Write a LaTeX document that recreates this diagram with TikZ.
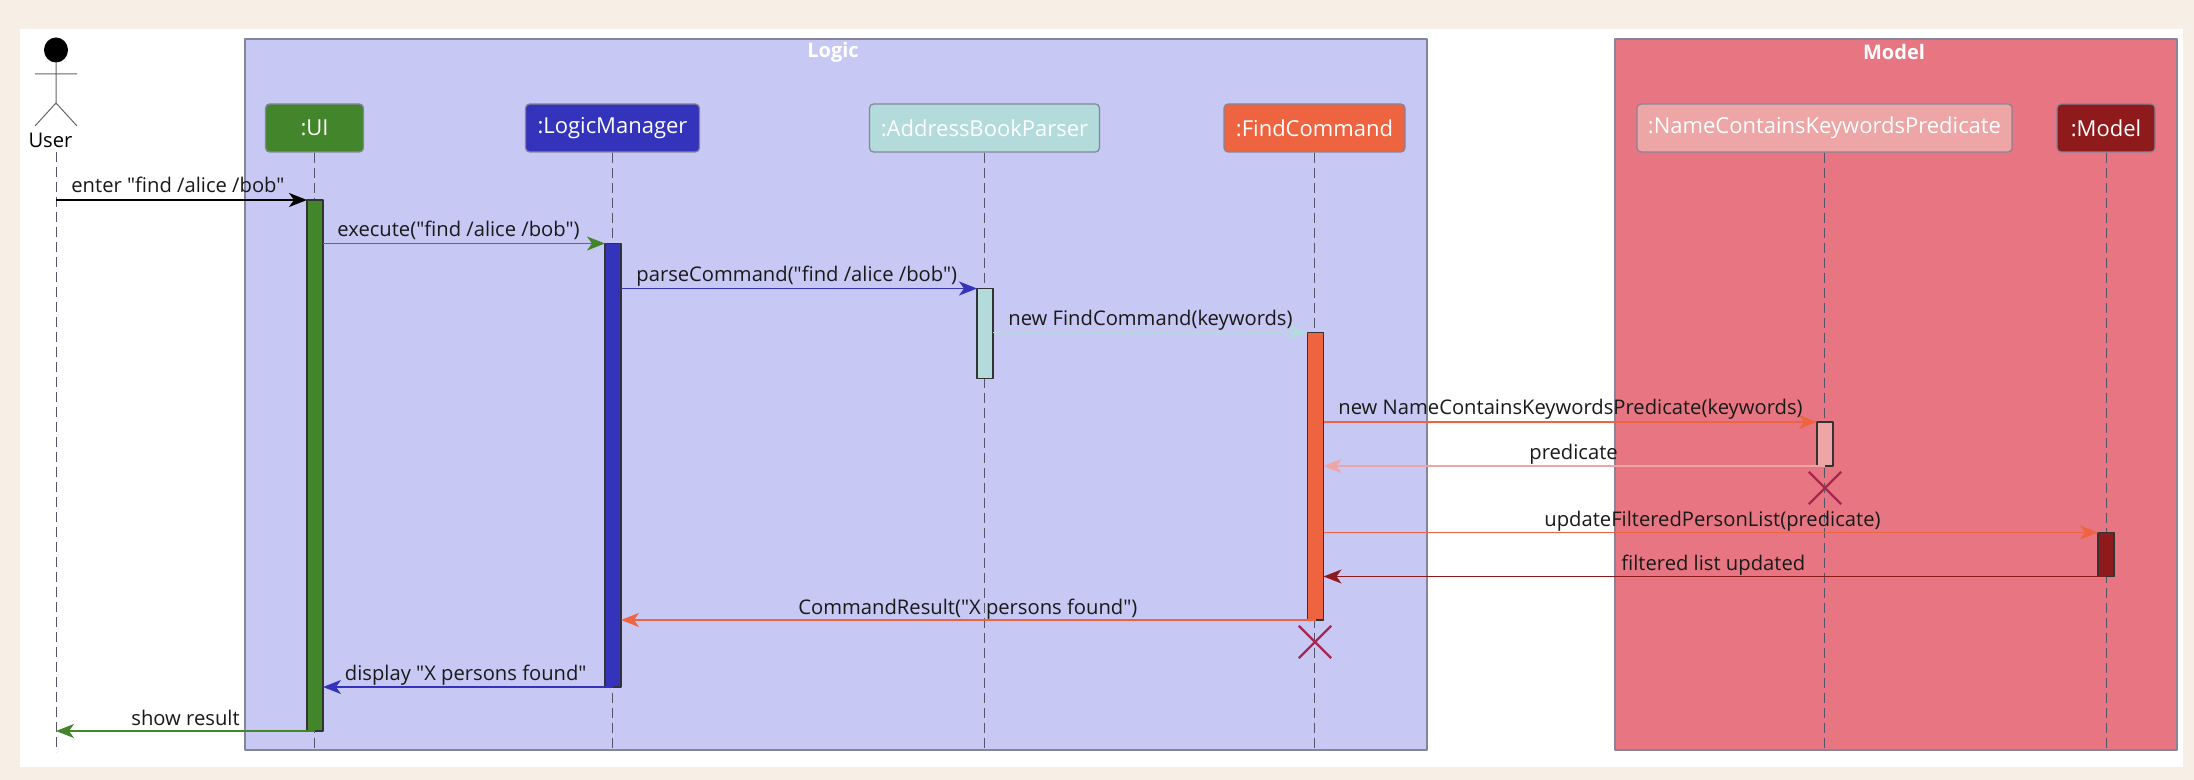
\documentclass[tikz,border=0pt]{standalone}
\usepackage{fontspec}
\setmainfont[Ligatures=TeXOff]{Open Sans}
\usetikzlibrary{arrows.meta,shapes.misc}
\definecolor{pageCol}{HTML}{F7EFE6}
\definecolor{logicCol}{HTML}{C8C8F5}
\definecolor{modelCol}{HTML}{E87682}
\definecolor{edgeCol}{HTML}{85859A}
\definecolor{uiCol}{HTML}{43852A}
\definecolor{lmCol}{HTML}{3333BB}
\definecolor{abpCol}{HTML}{B3DBDB}
\definecolor{fcCol}{HTML}{EE6340}
\definecolor{predCol}{HTML}{EDA5A5}
\definecolor{mdlCol}{HTML}{8E1A1C}
\definecolor{xCol}{HTML}{A8274F}
\definecolor{lifeCol}{HTML}{55556A}
\begin{document}
\begin{tikzpicture}[x=0.5pt, y=-0.5pt, line join=round, >={Stealth[length=9pt,width=7pt,inset=2.5pt]}, font=\fontsize{10.1}{12}\selectfont,
	group/.style={draw=edgeCol, line width=0.7pt},
	grouptitle/.style={text=white, font=\fontsize{10}{12}\selectfont\bfseries, inner sep=0pt},
	part/.style={draw=edgeCol, line width=0.6pt, rounded corners=2pt, text=white, font=\fontsize{11}{13}\selectfont, minimum height=24pt, inner sep=0pt},
	bar/.style={draw=black!80, line width=0.7pt, minimum width=8pt, inner sep=0pt, outer sep=0pt, anchor=north},
	lifeline/.style={draw=lifeCol, line width=0.45pt, dash pattern=on 5pt off 2.5pt},
	msg/.style={->, line width=0.8pt},
	msgtext/.style={anchor=base west, inner sep=0pt, text=black!90},
	destroy/.style={cross out, draw=xCol, line width=1.2pt, minimum size=15pt, inner sep=0pt}]
	\useasboundingbox (0,0) rectangle (2194,780);
	\fill[pageCol] (0,0) rectangle (2194,780);
	\fill[white] (20,29) rectangle (2183,767);
	\draw[group, fill=logicCol] (245,39) rectangle (1427,750);
	\draw[group, fill=modelCol] (1615,39) rectangle (2177,750);
	\node[grouptitle] (logicTitle) at (833,52) {Logic};
	\node[grouptitle] (modelTitle) at (1894,52) {Model};
	% actor
	\coordinate (bottom) at (0,752);
	\coordinate (user) at (56,152);
	\fill (56,50) ellipse (12 and 12.5);
	\draw[line width=0.5pt, black!60] (56,62)--(56,103) (35,74)--(77,74) (35,126)--(56,103)--(77,126);
	\node[inner sep=0pt] (userName) at (50.5,140) {User};
	% participants
	\node[part, fill=uiCol, minimum width=49pt] (ui) at (314.5,128) {:UI};
	\node[part, fill=lmCol, minimum width=87pt] (lm) at (612.5,128) {:LogicManager};
	\node[part, fill=abpCol, minimum width=115pt] (abp) at (984.5,128) {:AddressBookParser};
	\node[part, fill=fcCol, minimum width=90.5pt] (fc) at (1314.5,128) {:FindCommand};
	\node[part, fill=predCol, minimum width=187.5pt] (pred) at (1824.5,128) {:NameContainsKeywordsPredicate};
	\node[part, fill=mdlCol, minimum width=49pt] (mdl) at (2106,128) {:Model};
	\foreach \n in {user,ui,lm,abp,fc,pred,mdl}
		\draw[lifeline] (\n) -- (\n |- bottom);
	% activation bars
	\node[bar, fill=uiCol, minimum height=265.5pt] (uiBar) at (315,200) {};
	\node[bar, fill=lmCol, minimum height=221.75pt] (lmBar) at (613,243.5) {};
	\node[bar, fill=abpCol, minimum height=45pt] (abpBar) at (985,288.5) {};
	\node[bar, fill=fcCol, minimum height=143.75pt] (fcBar) at (1315.5,332.5) {};
	\node[bar, fill=predCol, minimum height=22pt] (predBar) at (1825,422) {};
	\node[bar, fill=mdlCol, minimum height=22pt] (mdlBar) at (2106,532.5) {};
	% messages
	\draw[msg, black] (user |- uiBar.north) -- (uiBar.north west);
	\draw[msg, uiCol] (uiBar.east |- lmBar.north) -- (lmBar.north west);
	\draw[msg, lmCol] (lmBar.east |- abpBar.north) -- (abpBar.north west);
	\draw[msg, abpCol] (abpBar.east |- fcBar.north) -- (fcBar.north west);
	\draw[msg, fcCol] (fcBar.east |- predBar.north) -- (predBar.north west);
	\draw[msg, predCol] (predBar.south) -- (fcBar.east |- predBar.south);
	\draw[msg, fcCol] (fcBar.east |- mdlBar.north) -- (mdlBar.north west);
	\draw[msg, mdlCol] (mdlBar.south) -- (fcBar.east |- mdlBar.south);
	\draw[msg, fcCol] (fcBar.south) -- (lmBar.east |- fcBar.south);
	\draw[msg, lmCol] (lmBar.south) -- (uiBar.east |- lmBar.south);
	\draw[msg, uiCol] (uiBar.south) -- (user |- uiBar.south);
	\node[destroy] (predEnd) at (1825,488) {};
	\node[destroy] (fcEnd) at (1315,642) {};
	% message labels
	\node[msgtext] (enterText) at (71,193) {enter "find /alice /bob"};
	\node[msgtext] (executeText) at (337,237) {execute("find /alice /bob")};
	\node[msgtext] (parseText) at (636,282) {parseCommand("find /alice /bob")};
	\node[msgtext] (newFcText) at (1008,326) {new FindCommand(keywords)};
	\node[msgtext] (newPredText) at (1338,415) {new NameContainsKeywordsPredicate(keywords)};
	\node[msgtext] (predText) at (1529,459) {predicate};
	\node[msgtext] (updateText) at (1544,526) {updateFilteredPersonList(predicate)};
	\node[msgtext] (updatedText) at (1621,570) {filtered list updated};
	\node[msgtext] (resultText) at (798,614) {CommandResult("X persons found")};
	\node[msgtext] (displayText) at (344.5,680) {display "X persons found"};
	\node[msgtext] (showText) at (131,725) {show result};
\end{tikzpicture}
\end{document}
